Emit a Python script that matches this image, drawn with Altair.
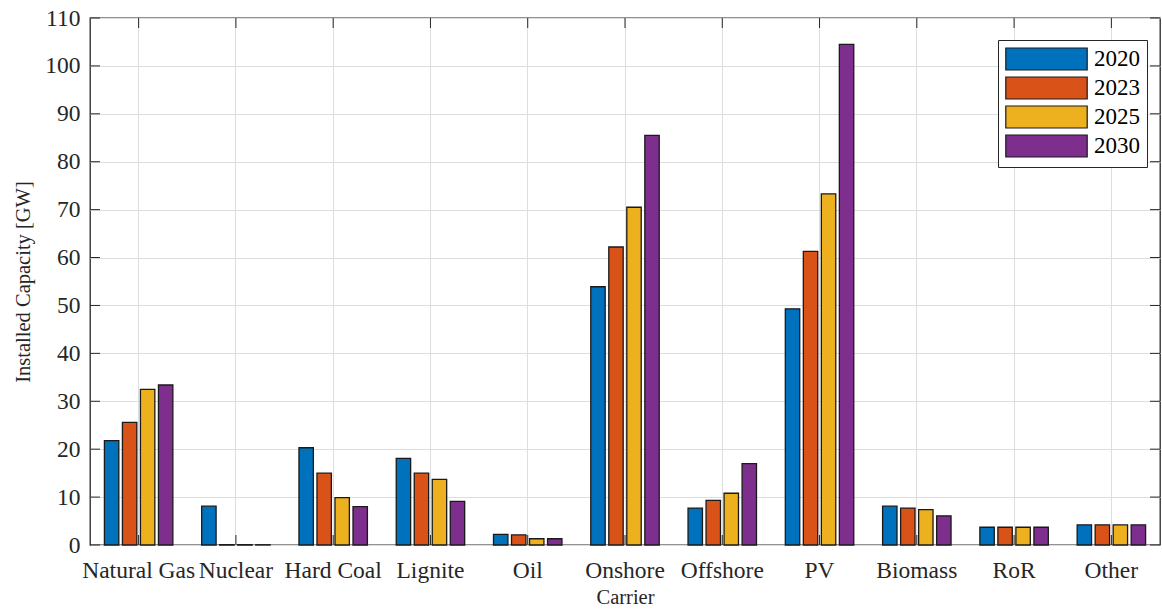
import altair as alt
import pandas as pd

carriers = ["Natural Gas", "Nuclear", "Hard Coal", "Lignite", "Oil", "Onshore",
            "Offshore", "PV", "Biomass", "RoR", "Other"]
years = ["2020", "2023", "2025", "2030"]
cap_2020 = [21.8, 8.1, 20.3, 18.1, 2.2, 53.9, 7.7, 49.3, 8.1, 3.7, 4.2]
cap_2023 = [25.6, 0.05, 15.0, 15.0, 2.1, 62.2, 9.3, 61.3, 7.7, 3.7, 4.2]
cap_2025 = [32.5, 0.05, 9.9, 13.7, 1.3, 70.5, 10.8, 73.3, 7.4, 3.7, 4.2]
cap_2030 = [33.4, 0.05, 8.0, 9.1, 1.3, 85.5, 17.0, 104.5, 6.1, 3.7, 4.2]
colors = ["#0072BD", "#D95319", "#EDB120", "#7E2F8E"]
y_ticks = list(range(0, 111, 10))

series = [cap_2020, cap_2023, cap_2025, cap_2030]
rows = []
for yr, vals in zip(years, series):
    for c, v in zip(carriers, vals):
        rows.append({"Carrier": c, "Year": yr, "Value": v})
df = pd.DataFrame(rows)
tick_df = pd.DataFrame({"t": y_ticks})
cat_df = pd.DataFrame({"Carrier": carriers})

FONT = "Liberation Serif"
W, H = 1070, 527
TXT = "#262626"

x_enc = alt.X("Carrier:N", sort=carriers,
              scale=alt.Scale(paddingInner=0, paddingOuter=0),
              axis=alt.Axis(title="Carrier", labelAngle=0, labelOverlap=False,
                            labelPadding=13, titlePadding=6, grid=True, ticks=False,
                            domain=False))
y_scale = alt.Scale(domain=[0, 110], nice=False, zero=True)

bars = alt.Chart(df).mark_bar(stroke="#1a1a1a", strokeWidth=1.3).encode(
    x=x_enc,
    xOffset=alt.XOffset("Year:N", sort=years,
                        scale=alt.Scale(paddingInner=0.2, paddingOuter=0.8)),
    y=alt.Y("Value:Q", scale=y_scale,
            axis=alt.Axis(title="Installed Capacity [GW]", values=y_ticks, grid=True,
                          ticks=False, domain=False, labelPadding=10, titlePadding=11)),
    color=alt.Color("Year:N", sort=years,
                    scale=alt.Scale(domain=years, range=colors),
                    legend=alt.Legend(title=None, orient="none", legendX=908, legendY=22,
                                      strokeColor=TXT, fillColor="white", padding=7,
                                      symbolType="M-3.7,-1L3.7,-1L3.7,1L-3.7,1Z",
                                      symbolSize=484, symbolStrokeColor="#1a1a1a",
                                      symbolStrokeWidth=1.2, symbolOpacity=1,
                                      symbolOffset=29.5,
                                      labelFontSize=23, labelFont=FONT, labelColor="black",
                                      labelOffset=35.5, rowPadding=1)),
)

left_ticks = alt.Chart(tick_df).mark_rule(color=TXT, strokeWidth=1).encode(
    y=alt.Y("t:Q", scale=y_scale), x=alt.value(0), x2=alt.value(10))
right_ticks = alt.Chart(tick_df).mark_rule(color=TXT, strokeWidth=1).encode(
    y=alt.Y("t:Q", scale=y_scale), x=alt.value(W), x2=alt.value(W - 10))
top_ticks = alt.Chart(cat_df).mark_rule(color=TXT, strokeWidth=1).encode(
    x=alt.X("Carrier:N", sort=carriers), y=alt.value(0), y2=alt.value(10))
bottom_ticks = alt.Chart(cat_df).mark_rule(color=TXT, strokeWidth=1).encode(
    x=alt.X("Carrier:N", sort=carriers), y=alt.value(H), y2=alt.value(H - 10))

chart = alt.layer(bars, left_ticks, right_ticks, top_ticks, bottom_ticks).properties(
    width=W, height=H,
    background="white",
    autosize=alt.AutoSizeParams(type="none"),
    padding={"left": 90, "top": 18, "right": 2, "bottom": 64},
).configure_view(
    stroke=TXT, strokeWidth=1.3
).configure_axis(
    labelFont=FONT, labelFontSize=23.5, labelColor=TXT,
    titleFont=FONT, titleFontSize=20.5, titleFontWeight="normal", titleColor=TXT,
    gridColor="#dedede", gridWidth=1
)

chart.save("out.html", embed_options={"renderer": "svg", "actions": False})
